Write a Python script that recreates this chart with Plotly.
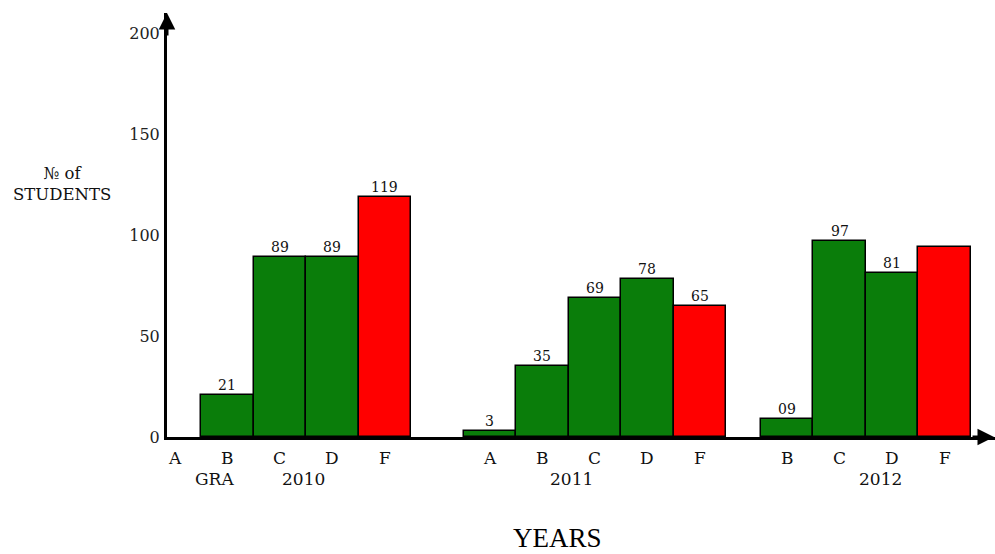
import plotly.graph_objects as go

# ---- data -------------------------------------------------------------
years = ["2010", "2011", "2012"]

grades_2010 = ["A", "B", "C", "D", "F"]
students_2010 = [None, 21, 89, 89, 119]

grades_2011 = ["A", "B", "C", "D", "F"]
students_2011 = [3, 35, 69, 78, 65]

grades_2012 = ["B", "C", "D", "F"]
students_2012 = [9, 97, 81, 94]

y_ticks = [0, 50, 100, 150, 200]

# ---- layout constants -------------------------------------------------
W, H = 995, 554
ML, MR, MT, MB = 167, 0, 13, 117
GREEN = "#0a7d0a"
RED = "#ff0000"
SERIF = "DejaVu Serif"

GRADE_SLOT = {"A": 0, "B": 1, "C": 2, "D": 3, "F": 4}
GROUP_START = {"2010": 0.0, "2011": 6.0, "2012": 10.66}
YEAR_LABEL_X = {"2010": 2.44, "2011": 7.56, "2012": 13.43}
LABEL_FMT = {"2010": "{}", "2011": "{}", "2012": "{:02d}"}
UNLABELLED = {("2012", "F")}
X_RANGE = [-0.152, 15.62]
Y_RANGE = [0, 209.9]

data = {
    "2010": (grades_2010, students_2010),
    "2011": (grades_2011, students_2011),
    "2012": (grades_2012, students_2012),
}

xs, ys, colors = [], [], []
annotations = []
for year in years:
    grades, counts = data[year]
    for g, v in zip(grades, counts):
        x = GROUP_START[year] + GRADE_SLOT[g]
        # grade letter under the axis
        annotations.append(dict(
            x=x, y=0, xref="x", yref="y", text=g, showarrow=False,
            yanchor="middle", yshift=-21,
            font=dict(family=SERIF, size=17, color="#111"),
        ))
        if v is None:
            continue
        xs.append(x)
        ys.append(v)
        colors.append(RED if g == "F" else GREEN)
        if (year, g) not in UNLABELLED:
            annotations.append(dict(
                x=x, y=v, xref="x", yref="y", text=LABEL_FMT[year].format(v),
                showarrow=False, yanchor="bottom", yshift=0,
                font=dict(family=SERIF, size=14, color="#111"),
            ))
    annotations.append(dict(
        x=YEAR_LABEL_X[year], y=0, xref="x", yref="y", text=year,
        showarrow=False, yanchor="middle", yshift=-42,
        font=dict(family=SERIF, size=17, color="#111"),
    ))

annotations.append(dict(
    x=0.76, y=0, xref="x", yref="y", text="GRA", showarrow=False,
    yanchor="middle", yshift=-42,
    font=dict(family=SERIF, size=17, color="#111"),
))

plot_w = W - ML - MR
plot_h = H - MT - MB


def px_x(px):
    return (px - ML) / plot_w


def px_y(py):
    return (H - MB - py) / plot_h


# y-axis title
annotations.append(dict(
    x=px_x(62), y=px_y(184), xref="paper", yref="paper",
    text="№ of<br>STUDENTS", showarrow=False, align="center",
    xanchor="center", yanchor="middle",
    font=dict(family=SERIF, size=16.5, color="#111"),
))
# x-axis title
annotations.append(dict(
    x=px_x(557), y=px_y(538), xref="paper", yref="paper",
    text="YEARS", showarrow=False, xanchor="center", yanchor="middle",
    font=dict(family="Liberation Serif", size=27, color="#000"),
))
# arrowheads on both axes
annotations.append(dict(
    x=0, y=1, xref="paper", yref="paper", text="", showarrow=True,
    ax=0, ay=24, arrowhead=2, arrowsize=1.1, arrowwidth=3, arrowcolor="#000",
))
annotations.append(dict(
    x=1, y=0, xref="paper", yref="paper", text="", showarrow=True,
    ax=-24, ay=0, arrowhead=2, arrowsize=1.1, arrowwidth=3, arrowcolor="#000",
))

fig = go.Figure(go.Bar(
    x=xs, y=ys, width=1.0,
    marker=dict(color=colors, line=dict(color="#000", width=1.5)),
    hoverinfo="x+y",
))

fig.update_layout(
    width=W, height=H,
    margin=dict(l=ML, r=MR, t=MT, b=MB),
    paper_bgcolor="white", plot_bgcolor="white",
    showlegend=False,
    bargap=0,
    annotations=annotations,
    xaxis=dict(
        range=X_RANGE, showgrid=False, zeroline=False, showticklabels=False,
        showline=True, linecolor="#000", linewidth=3, ticks="",
    ),
    yaxis=dict(
        range=Y_RANGE, showgrid=False, zeroline=False,
        tickvals=y_ticks, ticktext=[str(t) for t in y_ticks],
        tickfont=dict(family=SERIF, size=16, color="#222"),
        showline=True, linecolor="#000", linewidth=3, ticks="",
        ticklabelstandoff=1,
    ),
)

fig.write_html("out.html")
